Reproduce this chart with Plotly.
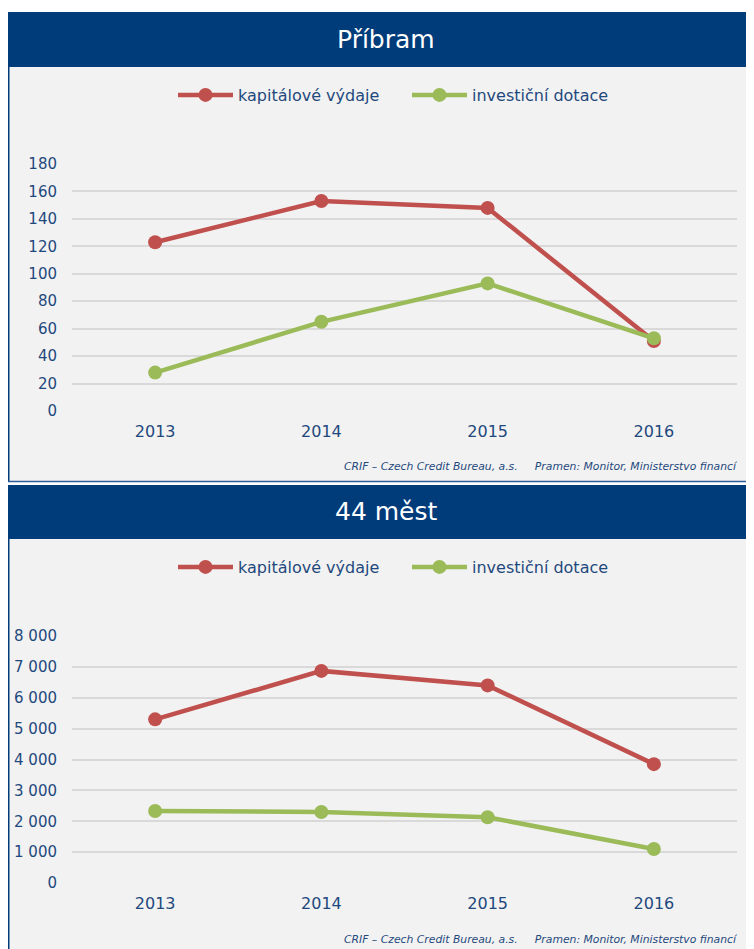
import plotly.graph_objects as go

years = ["2013", "2014", "2015", "2016"]
pribram_kap = [123, 153, 148, 51]
pribram_inv = [28, 65, 93, 53]
mesta_kap = [5300, 6870, 6400, 3850]
mesta_inv = [2330, 2300, 2130, 1100]
series_names = ["kapitálové výdaje", "investiční dotace"]
titles = ["Příbram", "44 měst"]
footnote = "CRIF – Czech Credit Bureau, a.s.     Pramen: Monitor, Ministerstvo financí"

OFF = 8  # page body margin
W, H = 754, 949
RED = "#c0504d"
GREEN = "#9bbb59"
NAVY = "#003b7a"
TXT = "#1f497d"
BG = "#f2f2f2"
GRID = "#d9d9d9"
ITEMW = 55


def py(p):
    return 1 - (p - OFF) / H


def px(p):
    return (p - OFF) / W


fig = go.Figure()

for vals, name, color, xa, ya, lg in [
    (pribram_kap, series_names[0], RED, "x", "y", "legend"),
    (pribram_inv, series_names[1], GREEN, "x", "y", "legend3"),
    (mesta_kap, series_names[0], RED, "x2", "y2", "legend2"),
    (mesta_inv, series_names[1], GREEN, "x2", "y2", "legend4"),
]:
    fig.add_trace(go.Scatter(
        x=years, y=vals, name=name, mode="lines+markers",
        line=dict(color=color, width=4.5),
        marker=dict(color=color, size=14),
        xaxis=xa, yaxis=ya, legend=lg, hoverinfo="skip",
    ))

xdom = [px(72), px(737)]
axis_font = dict(family="DejaVu Sans", size=15, color=TXT)

common_x = dict(type="category", range=[-0.5, 3.5], showgrid=False, zeroline=False,
                showline=False, tickfont=dict(family="DejaVu Sans", size=16, color=TXT),
                ticks="", ticklabelstandoff=9, fixedrange=True)
common_y = dict(showgrid=True, gridcolor=GRID, gridwidth=2, zeroline=False, showline=False,
                tickfont=axis_font, ticks="", ticklabelstandoff=14, fixedrange=True)


def leg(text_x, y):
    return dict(orientation="h", x=px(text_x - ITEMW - 10), xanchor="left", y=py(y),
                yanchor="middle", font=dict(family="DejaVu Sans", size=16, color=TXT),
                bgcolor="rgba(0,0,0,0)", itemwidth=ITEMW, borderwidth=0)


fig.update_layout(
    width=W, height=H,
    margin=dict(l=0, r=0, t=0, b=0, autoexpand=False),
    paper_bgcolor="white", plot_bgcolor="rgba(0,0,0,0)",
    separators=", ",
    xaxis=dict(domain=xdom, anchor="y", **common_x),
    yaxis=dict(domain=[py(411), py(164)], range=[0, 180], dtick=20, anchor="x", **common_y),
    xaxis2=dict(domain=xdom, anchor="y2", **common_x),
    yaxis2=dict(domain=[py(883), py(636)], range=[0, 8000], dtick=1000, anchor="x2",
                separatethousands=True, **common_y),
    legend=leg(238, 95),
    legend3=leg(472, 95),
    legend2=leg(238, 567),
    legend4=leg(472, 567),
    showlegend=True,
)

shapes = []
annotations = []
for (top, bottom, bar_bottom, title, foot_y) in [
    (12, 481, 67, titles[0], 466),
    (485, 960, 539, titles[1], 939),
]:
    shapes.append(dict(type="rect", xref="paper", yref="paper", x0=px(7), x1=1,
                       y0=py(bottom), y1=py(top), fillcolor=BG, line_width=0, layer="below"))
    shapes.append(dict(type="rect", xref="paper", yref="paper", x0=px(7), x1=1,
                       y0=py(bar_bottom), y1=py(top), fillcolor=NAVY, line_width=0, layer="below"))
    shapes.append(dict(type="line", xref="paper", yref="paper", x0=px(8.5), x1=px(8.5),
                       y0=py(bottom), y1=py(bar_bottom), line=dict(color=NAVY, width=2), layer="below"))
    annotations.append(dict(xref="paper", yref="paper", x=px(386), y=py((top + bar_bottom) / 2),
                            text=title, showarrow=False, xanchor="center", yanchor="middle",
                            font=dict(family="DejaVu Sans", size=25, color="white")))
    annotations.append(dict(xref="paper", yref="paper", x=px(740), y=py(foot_y),
                            text="<i>" + footnote.replace("  ", "&nbsp; ") + "</i>", showarrow=False,
                            xanchor="right", yanchor="middle",
                            font=dict(family="DejaVu Sans", size=10.8, color=TXT)))

shapes.append(dict(type="line", xref="paper", yref="paper", x0=px(7), x1=1,
                   y0=py(481.5), y1=py(481.5), line=dict(color="#2e5d9a", width=1.5), layer="below"))

fig.update_layout(shapes=shapes, annotations=annotations)

fig.write_html("out.html")
